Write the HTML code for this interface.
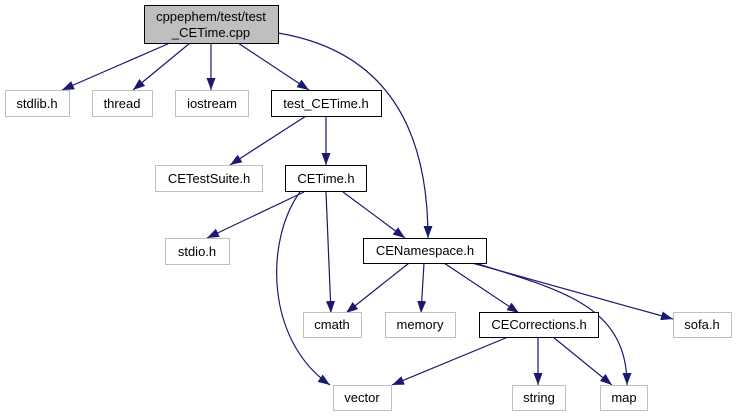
<!DOCTYPE html>
<html><head><meta charset="utf-8"><style>
body{margin:0;background:#fff}
svg{display:block}
text{font-family:"Liberation Sans",Arial,sans-serif;font-size:13px;text-anchor:middle;fill:#000}
</style></head><body>
<svg width="737" height="416" viewBox="0 0 737 416" xmlns="http://www.w3.org/2000/svg">
<defs><marker id="a" viewBox="0 0 12 10" refX="12" refY="5" markerWidth="12" markerHeight="10" markerUnits="userSpaceOnUse" orient="auto"><path d="M0,0.5 L12,5 L0,9.5 z" fill="#191970"/></marker></defs>
<g fill="none" stroke="#191970" stroke-width="1.2" marker-end="url(#a)">
<path d="M170,43 L62,90"/>
<path d="M190,43 L133,90"/>
<path d="M211,43 L211,90"/>
<path d="M238,43 L309,90"/>
<path d="M278,33 C380,50 428,120 428,238"/>
<path d="M306,116 L230,165"/>
<path d="M326,116 L326,165"/>
<path d="M304,192 L207,238"/>
<path d="M300,192 C265,240 265,340 330,385"/>
<path d="M326,192 L331,313"/>
<path d="M343,192 L405,238"/>
<path d="M409,263 L346,313"/>
<path d="M424,263 L421,313"/>
<path d="M444,263 L519,313"/>
<path d="M472,263 L673,319"/>
<path d="M475,263 C560,290 627,305 627,385"/>
<path d="M508,337 L392,385"/>
<path d="M538,337 L538,385"/>
<path d="M553,337 L612,385"/>
</g>
<g stroke-width="1">
<rect x="144.5" y="5.5" width="134" height="38" fill="#bfbfbf" stroke="#000"/>
<rect x="5.5" y="90.5" width="64" height="26" fill="#fff" stroke="#bfbfbf"/>
<rect x="92.5" y="90.5" width="60" height="26" fill="#fff" stroke="#bfbfbf"/>
<rect x="175.5" y="90.5" width="73" height="26" fill="#fff" stroke="#bfbfbf"/>
<rect x="271.5" y="90.5" width="110" height="26" fill="#fff" stroke="#000"/>
<rect x="155.5" y="165.5" width="107" height="26" fill="#fff" stroke="#bfbfbf"/>
<rect x="285.5" y="165.5" width="81" height="26" fill="#fff" stroke="#000"/>
<rect x="165.5" y="238.5" width="64" height="26" fill="#fff" stroke="#bfbfbf"/>
<rect x="363.5" y="238.5" width="123" height="25" fill="#fff" stroke="#000"/>
<rect x="303.5" y="312.5" width="58" height="25" fill="#fff" stroke="#bfbfbf"/>
<rect x="385.5" y="312.5" width="70" height="25" fill="#fff" stroke="#bfbfbf"/>
<rect x="479.5" y="312.5" width="119" height="25" fill="#fff" stroke="#000"/>
<rect x="673.5" y="312.5" width="58" height="25" fill="#fff" stroke="#bfbfbf"/>
<rect x="333.5" y="385.5" width="58" height="25" fill="#fff" stroke="#bfbfbf"/>
<rect x="512.5" y="385.5" width="53" height="25" fill="#fff" stroke="#bfbfbf"/>
<rect x="600.5" y="385.5" width="47" height="25" fill="#fff" stroke="#bfbfbf"/>
</g>
<text x="211" y="21">cppephem/test/test</text>
<text x="211" y="37">_CETime.cpp</text>
<text x="37" y="108">stdlib.h</text>
<text x="122" y="108">thread</text>
<text x="212" y="108">iostream</text>
<text x="326" y="108">test_CETime.h</text>
<text x="209" y="183">CETestSuite.h</text>
<text x="326" y="183">CETime.h</text>
<text x="197" y="256">stdio.h</text>
<text x="425" y="255">CENamespace.h</text>
<text x="332" y="329">cmath</text>
<text x="420" y="329">memory</text>
<text x="539" y="329">CECorrections.h</text>
<text x="702" y="329">sofa.h</text>
<text x="362" y="402">vector</text>
<text x="539" y="402">string</text>
<text x="624" y="402">map</text>
</svg>
</body></html>
